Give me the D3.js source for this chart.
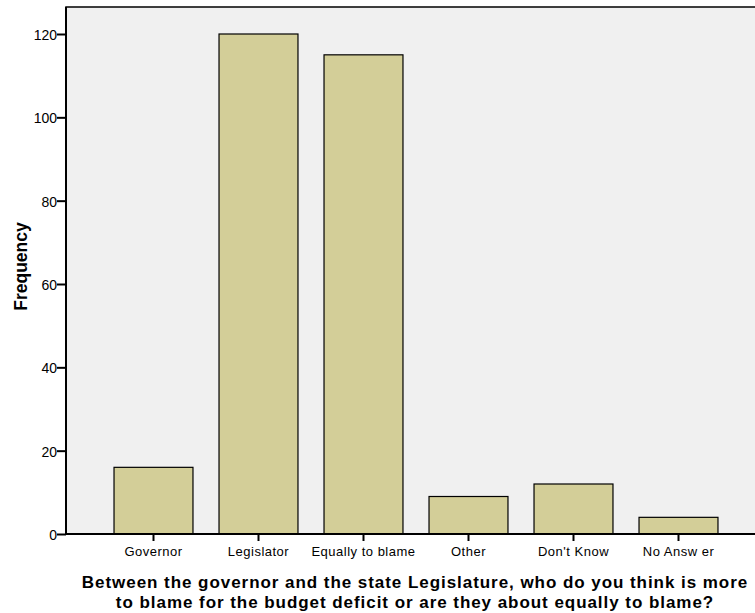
<!DOCTYPE html>
<html><head><meta charset="utf-8">
<script src="https://cdn.jsdelivr.net/npm/d3@7"></script>
<style>
html,body{margin:0;padding:0;background:#fff;}
svg{display:block;font-family:Arial,"Liberation Sans",sans-serif;}
</style></head>
<body><svg id="chart" width="755" height="613"></svg>
<script>
const categories = ["Governor","Legislator","Equally to blame","Other","Don't Know","No Answ er"];
const frequencies = [16,120,115,9,12,4];
const yTicks = [0,20,40,60,80,100,120];
const yLabel = "Frequency";
const xTitleLines = ["Between the governor and the state Legislature, who do you think is more","to blame for the budget deficit or are they about equally to blame?"];

const svg = d3.select("#chart");
const plotLeft = 66, plotTop = 7, plotRight = 766, plotBottom = 534;

const x = d3.scaleBand().domain(categories).range([101,731]).paddingInner(0.248).paddingOuter(0.124);
const y = d3.scaleLinear().domain([0,120]).range([plotBottom,34]);

svg.append("rect").attr("x",plotLeft).attr("y",plotTop).attr("width",plotRight-plotLeft).attr("height",plotBottom-plotTop)
  .attr("fill","#f0f0f0").attr("stroke","#000").attr("stroke-width",1.5);

svg.append("g").selectAll("rect").data(categories).join("rect")
  .attr("x",d=>x(d)).attr("width",x.bandwidth())
  .attr("y",(d,i)=>y(frequencies[i])).attr("height",(d,i)=>y(0)-y(frequencies[i]))
  .attr("fill","#d3ce98").attr("stroke","#000").attr("stroke-width",1.2);

const yAxis = svg.append("g").attr("transform",`translate(${plotLeft},0)`)
  .call(d3.axisLeft(y).tickValues(yTicks).tickSize(9).tickPadding(0).tickSizeOuter(0));
yAxis.select(".domain").remove();
yAxis.selectAll("line").attr("stroke","#000").attr("stroke-width",2);
yAxis.selectAll("text").attr("font-size",14).attr("dy","0.4em").attr("fill","#000").attr("font-family","Arial,'Liberation Sans',sans-serif");

const xAxis = svg.append("g").attr("transform",`translate(0,${plotBottom})`)
  .call(d3.axisBottom(x).tickSize(7).tickPadding(6).tickSizeOuter(0));
xAxis.select(".domain").remove();
xAxis.selectAll("line").attr("stroke","#000").attr("stroke-width",2);
xAxis.selectAll("text").attr("font-size",13).attr("letter-spacing","0.5px").attr("fill","#000").attr("font-family","Arial,'Liberation Sans',sans-serif");

svg.append("line").attr("x1",plotLeft).attr("x2",plotRight).attr("y1",plotBottom).attr("y2",plotBottom).attr("stroke","#000").attr("stroke-width",2);
svg.append("line").attr("x1",plotLeft).attr("x2",plotLeft).attr("y1",plotTop).attr("y2",plotBottom).attr("stroke","#000").attr("stroke-width",2);

svg.append("text").attr("transform",`translate(26.5,266.5) rotate(-90)`).attr("text-anchor","middle")
  .attr("font-size",17.5).attr("font-weight","bold").text(yLabel);

svg.append("g").selectAll("text").data(xTitleLines).join("text")
  .attr("x",415).attr("y",(d,i)=>588+i*19.5).attr("text-anchor","middle")
  .attr("font-size",17).attr("letter-spacing","0.95px").attr("font-weight","bold").text(d=>d);
</script></body></html>
